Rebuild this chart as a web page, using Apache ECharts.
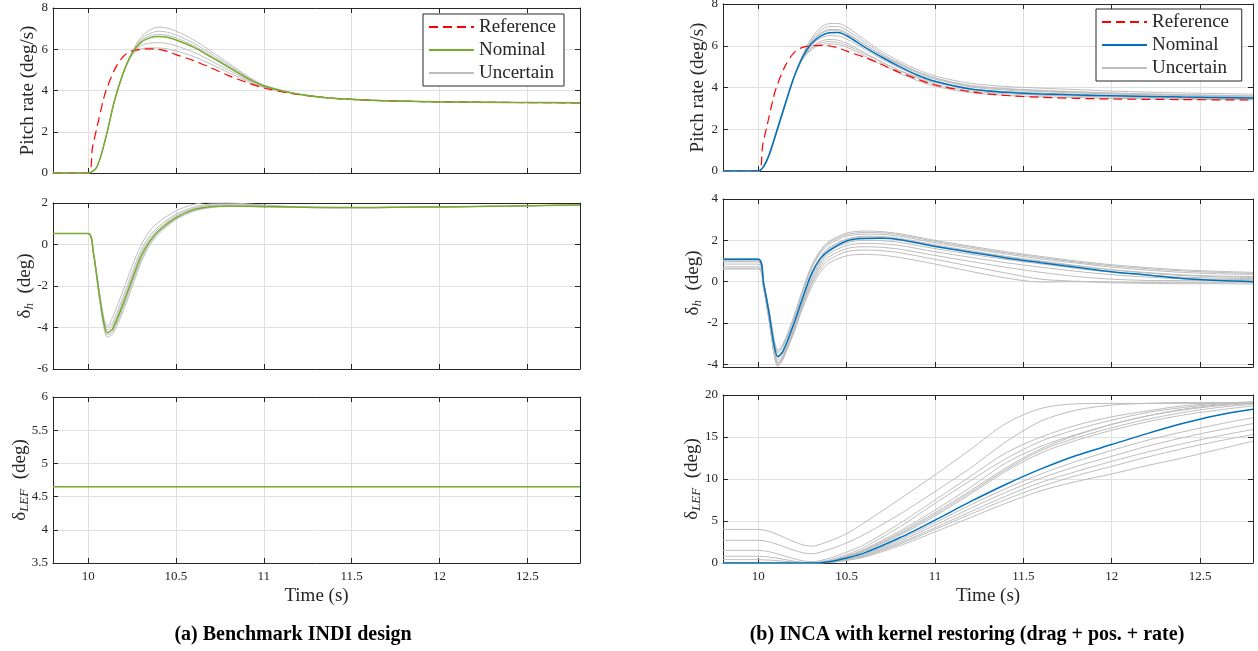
<!DOCTYPE html>
<html><head><meta charset="utf-8">
<script src="https://cdn.jsdelivr.net/npm/echarts@6/dist/echarts.min.js"></script>
<style>html,body{margin:0;padding:0;background:#fff}#c{width:1258px;height:651px}</style>
</head><body><div id="c"></div>
<script>
// ---------- time bases ----------
const T_REF = [9.8,10.0,10.025,10.05,10.085,10.1,10.15,10.2,10.25,10.3,10.35,10.4,10.45,10.5,10.6,10.7,10.8,10.9,11.0,11.2,11.4,11.6,11.8,12.0,12.4,12.8];
const T_Q = [9.8,10.0,10.05,10.1,10.15,10.2,10.25,10.3,10.35,10.4,10.45,10.5,10.6,10.7,10.8,10.9,11.0,11.2,11.4,11.6,11.8,12.0,12.4,12.8];
const T_H = [9.8,10.0,10.03,10.06,10.09,10.11,10.14,10.2,10.25,10.3,10.35,10.4,10.5,10.6,10.7,10.8,11.0,11.2,11.4,11.6,11.8,12.0,12.2,12.4,12.6,12.8];
const T_L = [9.8,10.0,10.3,10.4,10.5,10.6,10.8,11.0,11.2,11.4,11.6,11.8,12.0,12.2,12.4,12.6,12.8];
const T_LA = [9.8,12.8];
const X_TICKS = [10,10.5,11,11.5,12,12.5];
const YTICKS_HB = [-4,-2,0,2,4];

// ---------- reference pitch rate (both designs) ----------
const Q_REF = [0,0,1.25,2.2,3.5,3.95,5.0,5.65,5.92,6.0,6.02,6.0,5.9,5.74,5.45,5.1,4.72,4.4,4.12,3.8,3.62,3.53,3.48,3.45,3.42,3.4];

// ---------- (a) Benchmark INDI ----------
const Q_A_NOM = [0,0,0.3,1.7,3.5,4.85,5.8,6.32,6.55,6.62,6.58,6.45,6.1,5.62,5.12,4.62,4.22,3.82,3.62,3.53,3.48,3.45,3.42,3.41];
const Q_A_UNC = [
 [0,0,0.3,1.7,3.5,4.86,5.87,6.57,6.93,7.07,7.03,6.88,6.46,5.9,5.32,4.74,4.27,3.82,3.62,3.53,3.48,3.45,3.42,3.41],
 [0,0,0.3,1.7,3.5,4.86,5.84,6.46,6.76,6.87,6.83,6.69,6.3,5.78,5.23,4.69,4.25,3.82,3.62,3.53,3.48,3.45,3.42,3.41],
 [0,0,0.3,1.7,3.5,4.85,5.82,6.38,6.64,6.72,6.68,6.55,6.18,5.68,5.17,4.65,4.23,3.82,3.62,3.53,3.48,3.45,3.42,3.41],
 [0,0,0.3,1.7,3.5,4.84,5.76,6.16,6.3,6.32,6.28,6.17,5.86,5.43,4.99,4.54,4.18,3.82,3.62,3.53,3.48,3.45,3.42,3.41],
 [0,0,0.3,1.7,3.5,4.83,5.72,6.01,6.07,6.06,6.02,5.92,5.65,5.27,4.87,4.47,4.15,3.82,3.62,3.53,3.48,3.45,3.42,3.41]
];
const H_A_NOM = [0.53,0.53,-0.4,-2.2,-3.8,-4.25,-4.05,-2.85,-1.7,-0.6,0.15,0.65,1.3,1.68,1.83,1.86,1.83,1.8,1.78,1.78,1.8,1.81,1.83,1.85,1.88,1.9];
const H_A_UNC = [
 [0.53,0.53,-0.38,-2.05,-3.55,-3.9,-3.5,-2.2,-1.05,-0.05,0.65,1.07,1.62,1.93,2.04,2.02,1.9,1.82,1.79,1.78,1.8,1.81,1.83,1.85,1.88,1.9],
 [0.53,0.53,-0.45,-2.35,-4.05,-4.45,-4.3,-3.2,-2.05,-0.9,-0.05,0.5,1.2,1.6,1.78,1.83,1.81,1.79,1.77,1.77,1.79,1.81,1.83,1.85,1.88,1.9],
 [0.53,0.53,-0.42,-2.28,-3.92,-4.35,-4.18,-3.03,-1.88,-0.76,0.05,0.58,1.25,1.64,1.8,1.85,1.82,1.79,1.77,1.77,1.79,1.81,1.83,1.85,1.88,1.9],
 [0.53,0.53,-0.4,-2.12,-3.68,-4.0,-3.75,-2.5,-1.35,-0.3,0.42,0.86,1.46,1.8,1.95,1.96,1.87,1.81,1.78,1.78,1.8,1.81,1.83,1.85,1.88,1.9],
 [0.53,0.53,-0.41,-2.18,-3.74,-4.12,-3.9,-2.68,-1.53,-0.45,0.28,0.76,1.38,1.74,1.89,1.91,1.85,1.8,1.78,1.78,1.8,1.81,1.83,1.85,1.88,1.9]
];
const L_A_NOM = [4.65,4.65];
const L_A_UNC = [[4.65,4.65]];

// ---------- (b) INCA with kernel restoring ----------
const Q_B_NOM = [0,0,0.55,1.8,3.15,4.45,5.45,6.1,6.45,6.62,6.64,6.48,5.95,5.45,5.0,4.6,4.3,3.93,3.77,3.69,3.64,3.6,3.54,3.5];
const Q_B_UNC = [
 [0,0,0.5,1.75,3.1,4.45,5.55,6.35,6.85,7.06,7.07,6.9,6.3,5.72,5.25,4.86,4.55,4.2,4.05,3.97,3.9,3.83,3.74,3.68],
 [0,0,0.5,1.75,3.1,4.45,5.5,6.25,6.72,6.92,6.92,6.75,6.18,5.62,5.16,4.77,4.46,4.1,3.95,3.87,3.8,3.74,3.66,3.6],
 [0,0,0.5,1.78,3.12,4.45,5.5,6.2,6.6,6.78,6.78,6.62,6.07,5.53,5.09,4.7,4.4,4.03,3.88,3.8,3.74,3.69,3.61,3.55],
 [0,0,0.52,1.78,3.13,4.45,5.47,6.15,6.55,6.72,6.72,6.56,6.05,5.55,5.12,4.75,4.45,4.08,3.92,3.84,3.78,3.72,3.64,3.58],
 [0,0,0.55,1.8,3.15,4.45,5.42,6.02,6.35,6.48,6.47,6.32,5.85,5.36,4.93,4.56,4.27,3.92,3.77,3.7,3.65,3.6,3.53,3.48],
 [0,0,0.55,1.82,3.17,4.45,5.38,5.92,6.2,6.3,6.27,6.12,5.68,5.22,4.8,4.45,4.16,3.84,3.7,3.63,3.58,3.54,3.48,3.44],
 [0,0,0.55,1.8,3.15,4.45,5.36,5.87,6.12,6.2,6.16,6.02,5.62,5.2,4.82,4.5,4.24,3.93,3.8,3.73,3.68,3.63,3.56,3.5],
 [0,0,0.55,1.82,3.17,4.45,5.32,5.8,6.03,6.1,6.06,5.93,5.52,5.08,4.68,4.33,4.06,3.75,3.62,3.56,3.52,3.48,3.44,3.41]
];
const H_B_NOM = [1.09,1.09,-0.1,-1.5,-3.1,-3.62,-3.35,-2.05,-0.8,0.35,1.1,1.5,1.97,2.09,2.1,2.03,1.7,1.42,1.15,0.92,0.7,0.48,0.32,0.15,0.05,0.0];
const H_B_UNC = [
 [1.09,1.09,-0.05,-1.3,-2.8,-3.3,-3.0,-1.7,-0.4,0.75,1.5,1.95,2.35,2.45,2.42,2.32,2.0,1.72,1.45,1.22,1.0,0.82,0.68,0.57,0.5,0.45],
 [1.09,1.09,-0.06,-1.35,-2.88,-3.38,-3.08,-1.78,-0.48,0.68,1.43,1.88,2.28,2.38,2.36,2.27,1.95,1.67,1.4,1.17,0.95,0.77,0.63,0.52,0.45,0.4],
 [1.09,1.09,-0.08,-1.4,-2.95,-3.45,-3.15,-1.85,-0.55,0.6,1.35,1.8,2.2,2.3,2.28,2.2,1.88,1.6,1.34,1.1,0.9,0.7,0.56,0.45,0.38,0.35],
 [1.0,1.0,-0.12,-1.55,-3.2,-3.68,-3.4,-2.1,-0.8,0.4,1.18,1.65,2.05,2.15,2.13,2.05,1.74,1.46,1.2,0.97,0.76,0.57,0.42,0.3,0.24,0.2],
 [1.0,1.0,-0.15,-1.6,-3.3,-3.8,-3.5,-2.2,-0.9,0.3,1.1,1.6,2.05,2.2,2.18,2.1,1.78,1.5,1.23,1.0,0.78,0.58,0.44,0.33,0.27,0.25],
 [0.96,0.96,-0.2,-1.75,-3.5,-4.05,-3.7,-2.35,-1.0,0.15,0.95,1.45,1.88,2.0,1.98,1.9,1.6,1.33,1.08,0.86,0.64,0.46,0.32,0.22,0.17,0.15],
 [0.85,0.85,-0.25,-1.7,-3.4,-3.95,-3.6,-2.3,-1.05,0.05,0.85,1.35,1.75,1.85,1.83,1.75,1.45,1.18,0.92,0.7,0.5,0.34,0.22,0.14,0.11,0.1],
 [0.72,0.72,-0.3,-1.8,-3.55,-4.1,-3.75,-2.45,-1.15,-0.05,0.72,1.2,1.6,1.69,1.66,1.57,1.27,0.98,0.7,0.45,0.25,0.12,0.06,0.05,0.05,0.05],
 [0.61,0.61,-0.35,-1.85,-3.5,-4.0,-3.7,-2.45,-1.2,-0.15,0.6,1.05,1.45,1.53,1.5,1.4,1.08,0.75,0.42,0.12,0.02,-0.02,-0.05,-0.05,-0.05,-0.05],
 [0.65,0.65,-0.35,-1.8,-3.4,-3.9,-3.65,-2.5,-1.3,-0.3,0.45,0.9,1.25,1.32,1.28,1.17,0.85,0.5,0.18,-0.02,0.0,-0.05,-0.08,-0.1,-0.1,-0.12]
];
const L_B_NOM = [0,0,0,0.15,0.6,1.2,3.0,5.1,7.3,9.35,11.2,12.8,14.1,15.4,16.6,17.6,18.3];
const L_B_UNC = [
 [4.0,4.0,2.0,2.6,3.5,4.8,7.6,10.5,13.5,16.6,18.4,18.95,19.0,19.0,19.0,19.0,19.0],
 [2.7,2.7,1.1,1.6,2.4,3.4,5.8,8.5,11.3,14.4,16.9,18.2,18.8,19.0,19.1,19.1,19.1],
 [1.5,1.5,0.15,0.55,1.3,2.2,4.7,7.5,10.3,13.1,15.0,16.4,17.4,18.1,18.7,19.0,19.2],
 [0.8,0.8,0.02,0.35,1.0,1.9,4.3,7.1,9.8,12.4,14.5,15.9,17.0,17.9,18.5,18.9,19.1],
 [0.4,0.4,0,0.25,0.85,1.65,3.8,6.3,9.0,11.9,13.9,15.3,16.5,17.5,18.2,18.7,19.0],
 [0,0,0,0.2,0.8,1.55,3.6,6.0,8.6,11.3,13.6,15.2,16.5,17.5,18.3,18.8,19.1],
 [0,0,0,0.18,0.75,1.45,3.45,5.8,8.4,11.1,13.4,14.9,16.1,17.1,17.9,18.5,18.9],
 [0,0,0,0.17,0.7,1.4,3.3,5.6,8.2,10.9,13.1,14.6,15.8,16.8,17.6,18.2,18.7],
 [0,0,0,0.12,0.5,1.05,2.8,4.8,6.9,8.85,10.6,12.1,13.4,14.6,15.6,16.5,17.3],
 [0,0,0,0.1,0.45,0.95,2.6,4.5,6.5,8.4,10.1,11.5,12.7,13.9,14.9,15.8,16.6],
 [0,0,0,0.09,0.4,0.88,2.4,4.2,6.1,7.95,9.6,10.9,12.1,13.2,14.2,15.1,15.9],
 [0,0,0,0.08,0.36,0.8,2.25,4.0,5.8,7.55,9.1,10.4,11.5,12.6,13.6,14.5,15.3],
 [0,0,0,0.05,0.3,0.7,2.05,3.7,5.4,7.1,8.6,9.7,10.6,11.6,12.5,13.5,14.5]
];

// ---------- labels ----------
const NAME_Q = 'Pitch rate (deg/s)';
const NAME_H = '{n|δ}{s|h}{n|  (deg)}';
const NAME_L = '{n|δ}{s|LEF}{n|  (deg)}';
const NAME_T = 'Time (s)';
const CAPTION_A = '(a) Benchmark INDI design';
const CAPTION_B = '(b) INCA with kernel restoring (drag + pos. + rate)';

// ---------- style ----------
const FONT = '"Liberation Serif", "Times New Roman", serif';
const AX = '#262626';
const GRIDC = '#e0e0e0';
const GRAY = '#bdbdbd';
const RED = '#ff0000';
const GREEN = '#77ac30';
const BLUE = '#0072bd';

const panels = [
 {g:{left:53,top:8,width:527,height:165}, y:{min:0,max:8,interval:2}, name:NAME_Q, gap:15, xl:false, t:T_Q, unc:Q_A_UNC, nom:Q_A_NOM, ref:true, col:GREEN, sfx:''},
 {g:{left:53,top:203,width:527,height:166}, y:{min:-6,max:2,interval:2}, name:NAME_H, gap:17, xl:false, t:T_H, unc:H_A_UNC, nom:H_A_NOM, ref:false, col:GREEN, sfx:''},
 {g:{left:53,top:397,width:527,height:166}, y:{min:3.5,max:6,interval:0.5}, name:NAME_L, gap:22, xl:true, t:T_LA, unc:L_A_UNC, nom:L_A_NOM, ref:false, col:GREEN, sfx:''},
 {g:{left:723,top:4,width:530,height:167}, y:{min:0,max:8,interval:2}, name:NAME_Q, gap:15, xl:false, t:T_Q, unc:Q_B_UNC, nom:Q_B_NOM, ref:true, col:BLUE, sfx:' '},
 {g:{left:723,top:199,width:530,height:168}, y:{min:-4.13,max:4,custom:YTICKS_HB}, name:NAME_H, gap:19, xl:false, t:T_H, unc:H_B_UNC, nom:H_B_NOM, ref:false, col:BLUE, sfx:' '},
 {g:{left:723,top:395,width:530,height:168}, y:{min:0,max:20,interval:5}, name:NAME_L, gap:20, xl:true, t:T_L, unc:L_B_UNC, nom:L_B_NOM, ref:false, col:BLUE, sfx:' '}
];

const pairs = (t, v) => t.map((x, i) => [x, v[i]]);
const grid = [], xAxis = [], yAxis = [], series = [];
const tickStyle = {inside:true, length:5, lineStyle:{color:AX, width:1}};
const lineStyle = {lineStyle:{color:AX, width:1}};
const labelStyle = {fontFamily:FONT, fontSize:13, color:AX};

panels.forEach((p, i) => {
  grid.push(Object.assign({containLabel:false, outerBoundsMode:'none', show:false}, p.g));
  xAxis.push({type:'value', gridIndex:i, min:9.8, max:12.8, position:'bottom',
    axisLine:Object.assign({show:true, onZero:false}, lineStyle),
    axisTick:Object.assign({show:true, customValues:X_TICKS}, tickStyle),
    axisLabel:Object.assign({show:p.xl, customValues:X_TICKS, margin:7}, labelStyle),
    splitLine:{show:true, customValues:X_TICKS, lineStyle:{color:GRIDC, width:1}},
    name:p.xl ? NAME_T : '', nameLocation:'middle', nameGap:24,
    nameTextStyle:{fontFamily:FONT, fontSize:19, color:AX}});
  const yBase = {type:'value', gridIndex:i, min:p.y.min, max:p.y.max};
  if (p.y.interval) yBase.interval = p.y.interval;
  const yt = p.y.custom ? {customValues:p.y.custom} : {};
  yAxis.push(Object.assign({}, yBase, {position:'left',
    axisLine:Object.assign({show:true, onZero:false}, lineStyle),
    axisTick:Object.assign({show:true}, tickStyle, yt),
    axisLabel:Object.assign({show:true, margin:5}, labelStyle, yt),
    splitLine:Object.assign({show:true, lineStyle:{color:GRIDC, width:1}}, yt),
    name:p.name, nameLocation:'middle', nameGap:p.gap, nameMoveOverlap:false,
    nameTextStyle:{fontFamily:FONT, fontSize:19, color:AX,
      rich:{n:{fontFamily:FONT, fontSize:19, color:AX},
            s:{fontFamily:FONT, fontSize:13, fontStyle:'italic', color:AX, verticalAlign:'bottom', lineHeight:22}}}}));
});
// mirrored (top / right) axes for the box with inward ticks
panels.forEach((p, i) => {
  xAxis.push({type:'value', gridIndex:i, min:9.8, max:12.8, position:'top',
    axisLine:Object.assign({show:true, onZero:false}, lineStyle),
    axisTick:Object.assign({show:true, customValues:X_TICKS}, tickStyle),
    axisLabel:{show:false}, splitLine:{show:false}});
  const yBase = {type:'value', gridIndex:i, min:p.y.min, max:p.y.max};
  if (p.y.interval) yBase.interval = p.y.interval;
  const yt = p.y.custom ? {customValues:p.y.custom} : {};
  yAxis.push(Object.assign({}, yBase, {position:'right',
    axisLine:Object.assign({show:true, onZero:false}, lineStyle),
    axisTick:Object.assign({show:true}, tickStyle, yt),
    axisLabel:Object.assign({show:false}, yt), splitLine:{show:false}}));
});

panels.forEach((p, i) => {
  p.unc.forEach(v => series.push({type:'line', name:'Uncertain' + p.sfx, xAxisIndex:i, yAxisIndex:i,
    data:pairs(p.t, v), showSymbol:false, symbol:'none', smooth:0.3,
    lineStyle:{color:GRAY, width:1}, itemStyle:{color:GRAY}, z:2, silent:true}));
  if (p.ref) series.push({type:'line', name:'Reference' + p.sfx, xAxisIndex:i, yAxisIndex:i,
    data:pairs(T_REF, Q_REF), showSymbol:false, symbol:'none', smooth:0.3,
    lineStyle:{color:RED, width:1.2, type:[9,5]}, itemStyle:{color:RED}, z:3, silent:true});
  series.push({type:'line', name:'Nominal' + p.sfx, xAxisIndex:i, yAxisIndex:i,
    data:pairs(p.t, p.nom), showSymbol:false, symbol:'none', smooth:0.3,
    lineStyle:{color:p.col, width:1.5}, itemStyle:{color:p.col}, z:4, silent:true});
});

const legendBase = {orient:'vertical', itemWidth:45, itemHeight:12, itemGap:3,
  padding:[3,8,3,5], borderColor:AX, borderWidth:1, borderRadius:0, backgroundColor:'#fff',
  selectedMode:false, itemStyle:{opacity:0},
  textStyle:{fontFamily:FONT, fontSize:19, color:AX, lineHeight:20}, z:10};

const option = {
  animation:false,
  backgroundColor:'#fff',
  grid, xAxis, yAxis, series,
  legend:[
    Object.assign({}, legendBase, {left:423, top:14, data:['Reference','Nominal','Uncertain']}),
    Object.assign({}, legendBase, {left:1096, top:9, data:['Reference ','Nominal ','Uncertain ']})
  ],
  graphic:[
    {type:'text', x:293, y:635, style:{text:CAPTION_A, font:'bold 20px "Liberation Serif", serif', fill:'#000', align:'center', verticalAlign:'middle'}},
    {type:'text', x:967, y:635, style:{text:CAPTION_B, font:'bold 20px "Liberation Serif", serif', fill:'#000', align:'center', verticalAlign:'middle'}}
  ]
};
const chart = echarts.init(document.getElementById('c'), null, {renderer:'canvas'});
chart.setOption(option);
</script>
</body></html>
